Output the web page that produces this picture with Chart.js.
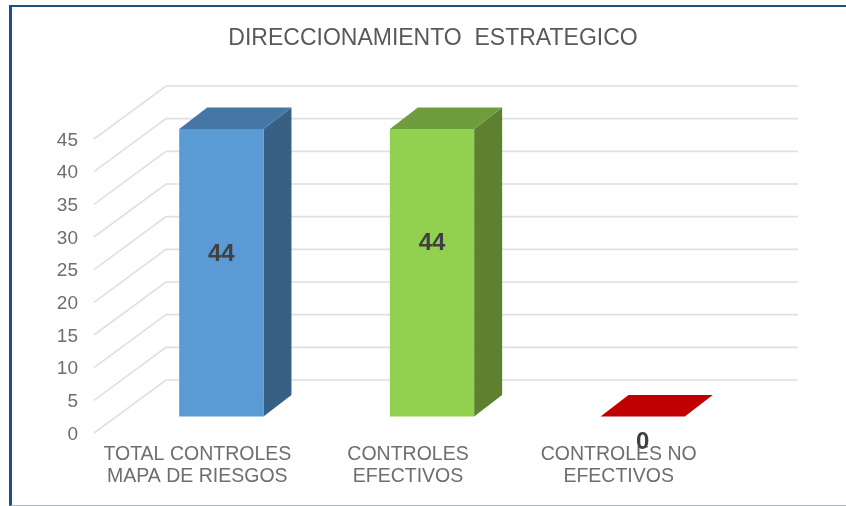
<!DOCTYPE html>
<html>
<head>
<meta charset="utf-8">
<title>Direccionamiento estratégico</title>
<style>
    html, body { margin: 0; padding: 0; background: #fff; }
    #frame {
        position: absolute;
        left: 9px;
        top: 5px;
        width: 837px;
        height: 501px;
        box-sizing: border-box;
        border-top: 2px solid #1f5082;
        border-left: 3px solid #1f5082;
        border-bottom: 1px solid #a8b6c0;
    }
    #chart { position: absolute; left: 0; top: 0; }
</style>
<script src="https://cdn.jsdelivr.net/npm/chart.js@4/dist/chart.umd.min.js"></script>
</head>
<body>
<div id="frame"></div>
<canvas id="chart" width="846" height="506"></canvas>
<script>
const chartTitle = 'DIRECCIONAMIENTO  ESTRATEGICO';
const categories = [['TOTAL CONTROLES', 'MAPA DE RIESGOS'], ['CONTROLES', 'EFECTIVOS'], ['CONTROLES NO', 'EFECTIVOS']];
const values = [44, 44, 0];
const frontColors = ['#5b9bd5', '#92d14f', '#c00000'];
const topColors = ['#4676a3', '#6f9c3c', '#c00000'];
const sideColors = ['#386085', '#5e8130', '#c00000'];

// the 3d look: how far the back wall sits from the axis plane, and the bars from it
const wall = { x: 72, y: -53 };
const barShift = { x: 22, y: -16.5 };
const barDepth = { x: 28, y: -21.6 };
// the data labels were moved by hand in the original, so they are not centred
const labelShift = [-18, -29, 26];

function polygon(ctx, points, color) {
    ctx.fillStyle = color;
    ctx.beginPath();
    points.forEach(([x, y], index) => index ? ctx.lineTo(x, y) : ctx.moveTo(x, y));
    ctx.closePath();
    ctx.fill();
}

const box3d = {
    id: 'box3d',
    afterLayout(chart) {
        // title is centred on the picture's inner frame, not on the plot
        chart.titleBlock.left = 20;
        chart.titleBlock.right = 846;
    },
    beforeDatasetsDraw(chart) {
        const ctx = chart.ctx;
        const { left, right } = chart.chartArea;
        const yScale = chart.scales.y;

        ctx.save();
        ctx.strokeStyle = '#e0e0e0';
        ctx.lineWidth = 1.6;
        yScale.ticks.forEach(tick => {
            const y = yScale.getPixelForValue(tick.value);
            ctx.beginPath();
            ctx.moveTo(left, y);
            ctx.lineTo(left + wall.x, y + wall.y);
            ctx.lineTo(right + wall.x, y + wall.y);
            ctx.stroke();
        });
        ctx.restore();

        const bars = chart.getDatasetMeta(0).data;
        ctx.save();
        ctx.translate(barShift.x, barShift.y);
        bars.forEach((bar, i) => {
            const x0 = bar.x - bar.width / 2;
            const x1 = bar.x + bar.width / 2;
            polygon(ctx, [[x1, bar.y], [x1 + barDepth.x, bar.y + barDepth.y], [x1 + barDepth.x, bar.base + barDepth.y], [x1, bar.base]], sideColors[i]);
            polygon(ctx, [[x0, bar.y], [x1, bar.y], [x1 + barDepth.x, bar.y + barDepth.y], [x0 + barDepth.x, bar.y + barDepth.y]], topColors[i]);
        });
        // left translated for the library's own bars, restored in afterDatasetsDraw
    },
    afterDatasetsDraw(chart) {
        const ctx = chart.ctx;
        ctx.restore();

        const bars = chart.getDatasetMeta(0).data;
        ctx.save();
        ctx.font = 'bold 24px "Liberation Sans", Arial, sans-serif';
        ctx.fillStyle = '#404040';
        ctx.textAlign = 'center';
        ctx.textBaseline = 'middle';
        bars.forEach((bar, i) => {
            const y = (bar.y + bar.base) / 2 + barShift.y + labelShift[i];
            ctx.fillText(String(values[i]), bar.x + barShift.x, y);
        });
        ctx.restore();
    }
};

new Chart(document.getElementById('chart'), {
    type: 'bar',
    data: {
        labels: categories,
        datasets: [{
            data: values,
            backgroundColor: frontColors,
            categoryPercentage: 0.4,
            barPercentage: 1,
            clip: false
        }]
    },
    options: {
        responsive: false,
        animation: false,
        layout: { padding: { left: 0, right: 120, top: 0, bottom: 0 } },
        plugins: {
            legend: { display: false },
            tooltip: { enabled: false },
            title: {
                display: true,
                text: chartTitle,
                color: '#595959',
                font: { family: '"Liberation Sans", Arial, sans-serif', size: 23, weight: 'normal' },
                padding: { top: 25, bottom: 86.4 }
            }
        },
        scales: {
            x: {
                grid: { display: false },
                border: { display: false },
                afterFit(scale) { scale.height = 73; },
                ticks: {
                    color: '#6e6e6e',
                    font: { family: '"Liberation Sans", Arial, sans-serif', size: 19.5, lineHeight: 1.13 },
                    padding: 3,
                    labelOffset: -2,
                    maxRotation: 0
                }
            },
            y: {
                min: 0,
                max: 45,
                grid: { display: false },
                border: { display: false },
                afterFit(scale) { scale.width = 94; },
                ticks: {
                    stepSize: 5,
                    color: '#6e6e6e',
                    font: { family: '"Liberation Sans", Arial, sans-serif', size: 19 },
                    padding: 8,
                    labelOffset: 1.5
                }
            }
        }
    },
    plugins: [box3d]
});
</script>
</body>
</html>
